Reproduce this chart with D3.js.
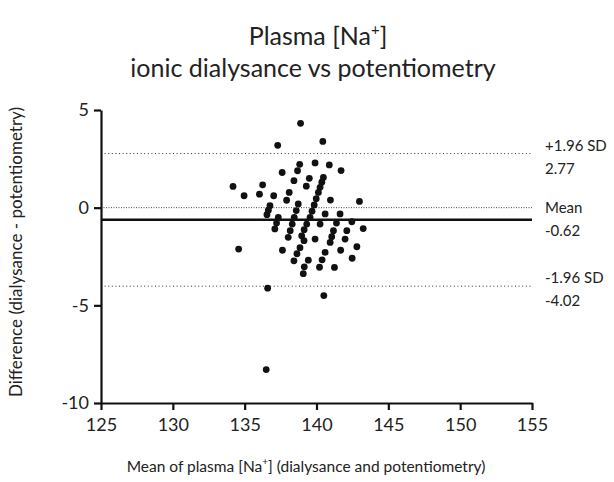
<!DOCTYPE html>
<html><head><meta charset="utf-8">
<script src="https://cdn.jsdelivr.net/npm/d3@7"></script>
<style>body{margin:0;background:#fff}svg{font-family:Lato,"Open Sans",sans-serif;display:block}</style>
</head><body>
<svg id="c" width="614" height="482"></svg>
<script>
// Bland-Altman data: mean of the two methods (x) and difference (y)
const meanValues = [
 138.89,137.30,140.44,134.19,134.96,136.25,136.03,137.02,137.61,138.68,
 138.83,139.90,140.89,141.71,138.43,139.50,139.29,140.48,140.37,140.25,
 138.10,137.92,140.13,139.98,139.84,139.69,139.55,140.97,142.99,136.76,
 136.65,136.55,138.73,138.59,138.45,138.31,138.17,138.03,137.34,137.22,
 137.10,140.60,141.64,139.32,139.14,138.97,140.25,141.39,142.46,141.18,
 141.06,140.95,142.11,143.25,139.90,141.99,139.13,138.85,138.64,138.43,
 137.63,141.68,142.81,140.60,140.39,140.21,139.43,142.48,139.15,139.08,
 141.25,134.58,136.60,140.51,136.50
];
const diffValues = [
 4.32,3.19,3.39,1.09,0.61,1.17,0.69,0.61,1.80,1.89,
 2.22,2.29,2.19,1.90,1.38,1.50,1.10,1.55,1.30,1.04,
 0.78,0.38,0.78,0.46,0.14,-0.18,-0.50,0.39,0.32,0.10,
 -0.13,-0.36,0.19,-0.15,-0.50,-0.84,-1.18,-1.52,-0.50,-0.79,
 -1.09,-0.32,-0.32,-0.84,-1.13,-1.44,-0.84,-0.79,-0.72,-1.18,
 -1.49,-1.78,-1.18,-1.07,-1.61,-1.61,-1.69,-2.05,-2.36,-2.72,
 -2.18,-2.18,-2.00,-2.29,-2.67,-3.05,-2.69,-2.59,-3.03,-3.38,
 -3.06,-2.12,-4.12,-4.50,-8.29
];
const xTicks = [125,130,135,140,145,150,155];
const yTicks = [5,0,-5,-10];
const refValues = [2.77, -0.62, -4.02];
const refNames = ["+1.96 SD", "Mean", "-1.96 SD"];
const refTexts = ["2.77", "-0.62", "-4.02"];

const svg = d3.select("#c");
const x = d3.scaleLinear().domain([125,155]).range([101,532]);
const y = d3.scaleLinear().domain([-10,5]).range([403,110]);

// title
const title = svg.append("text").attr("x",318).attr("y",45).attr("text-anchor","middle")
  .attr("font-size",25).attr("fill","#222");
title.append("tspan").text("Plasma [Na");
title.append("tspan").attr("font-size",15).attr("dy",-10).text("+");
title.append("tspan").attr("dy",10).text("]");
svg.append("text").attr("x",313).attr("y",77).attr("text-anchor","middle")
  .attr("font-size",25).attr("fill","#222").text("ionic dialysance vs potentiometry");

// zero reference line
svg.append("line").attr("x1",x(125)).attr("x2",x(155)).attr("y1",y(0)).attr("y2",y(0))
  .attr("stroke","#444").attr("stroke-width",1).attr("stroke-dasharray","1,1.5");
// limits of agreement
refValues.forEach((v,i)=>{
  const ln = svg.append("line").attr("x1",x(125)).attr("x2",x(155)).attr("y1",y(v)).attr("y2",y(v));
  if(i===1) ln.attr("stroke","#111").attr("stroke-width",2.4);
  else ln.attr("stroke","#333").attr("stroke-width",1).attr("stroke-dasharray","1,2.6");
  svg.append("text").attr("x",545).attr("y",y(v)-(i===1?7:3)).attr("font-size",15).attr("fill","#222").text(refNames[i]);
  svg.append("text").attr("x",545).attr("y",y(v)+(i===1?16:20)).attr("font-size",15).attr("fill","#222").text(refTexts[i]);
});

// points
svg.append("g").selectAll("circle").data(meanValues.map((m,i)=>[m,diffValues[i]])).join("circle")
  .attr("cx",d=>x(d[0])).attr("cy",d=>y(d[1])).attr("r",3.4).attr("fill","#111");

// axes
const fmt = d => String(d);
const xa = svg.append("g").attr("transform",`translate(0,${y(-10)})`)
  .call(d3.axisBottom(x).tickValues(xTicks).tickFormat(fmt).tickSize(7).tickSizeOuter(0).tickPadding(8));
const ya = svg.append("g").attr("transform",`translate(${x(125)},0)`)
  .call(d3.axisLeft(y).tickValues(yTicks).tickFormat(fmt).tickSize(7).tickSizeOuter(0).tickPadding(5));
[xa,ya].forEach(a=>{
  a.select(".domain").attr("stroke","#111").attr("stroke-width",2.2);
  a.selectAll(".tick line").attr("stroke","#111").attr("stroke-width",2.2);
  a.selectAll(".tick text").attr("font-size",18).attr("fill","#222").attr("font-family","Lato, sans-serif");
});

// axis titles
const xl = svg.append("text").attr("x",306).attr("y",472).attr("text-anchor","middle")
  .attr("font-size",15.5).attr("fill","#222");
xl.append("tspan").text("Mean of plasma [Na");
xl.append("tspan").attr("font-size",10).attr("dy",-7).text("+");
xl.append("tspan").attr("dy",7).text("] (dialysance and potentiometry)");
svg.append("text").attr("transform","translate(22,252) rotate(-90)").attr("text-anchor","middle")
  .attr("font-size",17).attr("fill","#222").text("Difference (dialysance - potentiometry)");
</script>
</body></html>
